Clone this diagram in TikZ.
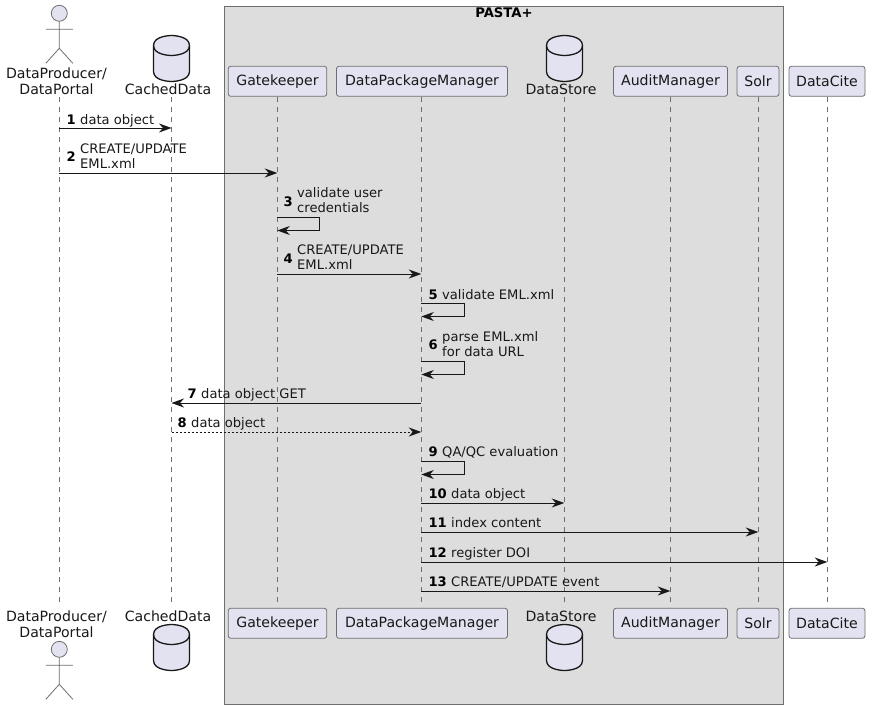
\documentclass[tikz,border=0pt]{standalone}
\usepackage{fontspec}
\setmainfont{DejaVu Sans}
\usetikzlibrary{arrows.meta}
\definecolor{partfill}{HTML}{E2E2F0}
\definecolor{ink}{HTML}{181818}
\definecolor{thin}{HTML}{6E6E6E}
\definecolor{boxfill}{HTML}{DDDDDD}
\tikzset{
  partbox/.style={draw=thin,fill=partfill,line width=.8pt,rounded corners=2.5pt,minimum height=30pt,inner sep=0pt,font=\fontsize{14.1}{16}\selectfont,text=ink},
  partlabel/.style={anchor=base,inner sep=0pt,font=\fontsize{14.1}{16}\selectfont,text=ink},
  lifeline/.style={draw=thin,line width=.7pt,dash pattern=on 5pt off 5pt},
  msgline/.style={draw=ink,line width=1pt,-{Stealth[length=12.5pt,width=9pt,inset=4pt]}},
  retline/.style={msgline,dash pattern=on 2pt off 2pt},
  msgtext/.style={anchor=base west,inner sep=0pt,font=\fontsize{13.1}{15}\selectfont,text=ink},
  msgnum/.style={anchor=base east,inner sep=0pt,font=\fontsize{13.1}{15}\selectfont\bfseries,text=black},
  dbshape/.style={draw=ink,fill=partfill,line width=1.3pt,line join=round},
  actorline/.style={draw=thin,fill=partfill,line width=.8pt},
}
% cylinder: centre x, top y
\newcommand{\dbcyl}[2]{%
  \path[dbshape] (#1-18,#2+10) .. controls (#1-18,#2) and (#1,#2) .. (#1,#2)
    .. controls (#1,#2) and (#1+18,#2) .. (#1+18,#2+10)
    -- (#1+18,#2+36) .. controls (#1+18,#2+46) and (#1,#2+46) .. (#1,#2+46)
    .. controls (#1,#2+46) and (#1-18,#2+46) .. (#1-18,#2+36) -- cycle;
  \path[dbshape,fill=none] (#1-18,#2+10) .. controls (#1-18,#2+20) and (#1,#2+20) .. (#1,#2+20)
    .. controls (#1,#2+20) and (#1+18,#2+20) .. (#1+18,#2+10);
}
% actor: centre x, head centre y
\newcommand{\stickman}[2]{%
  \draw[actorline] (#1,#2) circle (8pt);
  \draw[actorline,fill=none] (#1,#2+8) -- (#1,#2+35) (#1-13.5,#2+16) -- (#1+13.5,#2+16)
    (#1-13.5,#2+50) -- (#1,#2+35) -- (#1+13.5,#2+50);
}
\begin{document}
\begin{tikzpicture}[x=1pt,y=-1pt]
\useasboundingbox (0,0) rectangle (870,709);
\fill[white] (0,0) rectangle (870,709);
% group box
\draw[draw=thin,fill=boxfill,line width=1pt] (224.5,6.5) rectangle (783.5,704.5);
\node[inner sep=0pt,anchor=base,font=\fontsize{13.2}{15}\selectfont\bfseries] (pasta) at (504,18) {PASTA+};
% lifeline ends
\coordinate (Ta) at (59.3,97);   \coordinate (Ba) at (59.3,607);
\coordinate (Tb) at (171.5,97);  \coordinate (Bb) at (171.5,607);
\coordinate (Tc) at (277.3,97);  \coordinate (Bc) at (277.3,607);
\coordinate (Td) at (421.3,97);  \coordinate (Bd) at (421.3,607);
\coordinate (Te) at (564.3,97);  \coordinate (Be) at (564.3,607);
\coordinate (Tf) at (670.3,97);  \coordinate (Bf) at (670.3,607);
\coordinate (Tg) at (758.3,97);  \coordinate (Bg) at (758.3,607);
\coordinate (Th) at (827.3,97);  \coordinate (Bh) at (827.3,607);
\foreach \k in {a,b,c,d,e,f,g,h} {\draw[lifeline] (T\k) -- (B\k);}
% actor
\stickman{59.3}{13.3}
\node[partlabel] (actorT1) at (56.5,78) {DataProducer/};
\node[partlabel] (actorT2) at (56.5,94) {DataPortal};
\node[partlabel] (actorB1) at (56.5,621) {DataProducer/};
\node[partlabel] (actorB2) at (56.5,637) {DataPortal};
\stickman{59.3}{649.3}
% databases
\dbcyl{171.5}{35.5}
\node[partlabel] (cachedT) at (168,94) {CachedData};
\node[partlabel] (cachedB) at (168,621) {CachedData};
\dbcyl{171.5}{624.5}
\dbcyl{564.5}{35.5}
\node[partlabel] (storeT) at (561,94) {DataStore};
\node[partlabel] (storeB) at (561,621) {DataStore};
\dbcyl{564.5}{624.5}
% boxes
\foreach \n/\cx/\w/\t in {gate/277.5/98.5/Gatekeeper,dpm/422/171/DataPackageManager,audit/670.5/114/AuditManager,solr/758/42/Solr,cite/827/76/DataCite}{
  \node[partbox,minimum width=\w pt] (\n T) at (\cx,81.3) {\t};
  \node[partbox,minimum width=\w pt] (\n B) at (\cx,623.3) {\t};
}
% messages
\draw[msgline] (0,128 -| Ta) -- (0,128 -| Tb);
\draw[msgline] (0,173 -| Ta) -- (0,173 -| Tc);
\draw[msgline] (0,274 -| Tc) -- (0,274 -| Td);
\draw[msgline] (0,403 -| Td) -- (0,403 -| Tb);
\draw[retline] (0,432 -| Tb) -- (0,432 -| Td);
\draw[msgline] (0,503 -| Td) -- (0,503 -| Te);
\draw[msgline] (0,532 -| Td) -- (0,532 -| Tg);
\draw[msgline] (0,562 -| Td) -- (0,562 -| Th);
\draw[msgline] (0,591 -| Td) -- (0,591 -| Tf);
% self messages
\draw[msgline] (0,217.5 -| Tc) -- ++(42.5,0) -- ++(0,13) -- (0,230.5 -| Tc);
\draw[msgline] (0,303.5 -| Td) -- ++(43,0) -- ++(0,13) -- (0,316.5 -| Td);
\draw[msgline] (0,361.5 -| Td) -- ++(43,0) -- ++(0,13) -- (0,374.5 -| Td);
\draw[msgline] (0,461.5 -| Td) -- ++(43,0) -- ++(0,13) -- (0,474.5 -| Td);
% labels
\node[msgnum] (n1) at (76,124) {1};
\node[msgtext] (t1) at (80,124) {data object};
\node[msgnum] (n2) at (76,161) {2};
\node[msgtext] (t2a) at (80,153) {CREATE/UPDATE};
\node[msgtext] (t2b) at (80,168) {EML.xml};
\node[msgnum] (n3) at (293,206) {3};
\node[msgtext] (t3a) at (297,197) {validate user};
\node[msgtext] (t3b) at (297,212) {credentials};
\node[msgnum] (n4) at (293,263) {4};
\node[msgtext] (t4a) at (297,254) {CREATE/UPDATE};
\node[msgtext] (t4b) at (297,269) {EML.xml};
\node[msgnum] (n5) at (438,299) {5};
\node[msgtext] (t5) at (442,299) {validate EML.xml};
\node[msgnum] (n6) at (438,349) {6};
\node[msgtext] (t6a) at (442,341) {parse EML.xml};
\node[msgtext] (t6b) at (442,356) {for data URL};
\node[msgnum] (n7) at (197,398) {7};
\node[msgtext] (t7) at (201,398) {data object GET};
\node[msgnum] (n8) at (187,427) {8};
\node[msgtext] (t8) at (191,427) {data object};
\node[msgnum] (n9) at (438,456) {9};
\node[msgtext] (t9) at (442,456) {QA/QC evaluation};
\node[msgnum] (n10) at (447,498) {10};
\node[msgtext] (t10) at (451,498) {data object};
\node[msgnum] (n11) at (447,527) {11};
\node[msgtext] (t11) at (451,527) {index content};
\node[msgnum] (n12) at (447,557) {12};
\node[msgtext] (t12) at (451,557) {register DOI};
\node[msgnum] (n13) at (447,586) {13};
\node[msgtext] (t13) at (451,586) {CREATE/UPDATE event};
\end{tikzpicture}
\end{document}
